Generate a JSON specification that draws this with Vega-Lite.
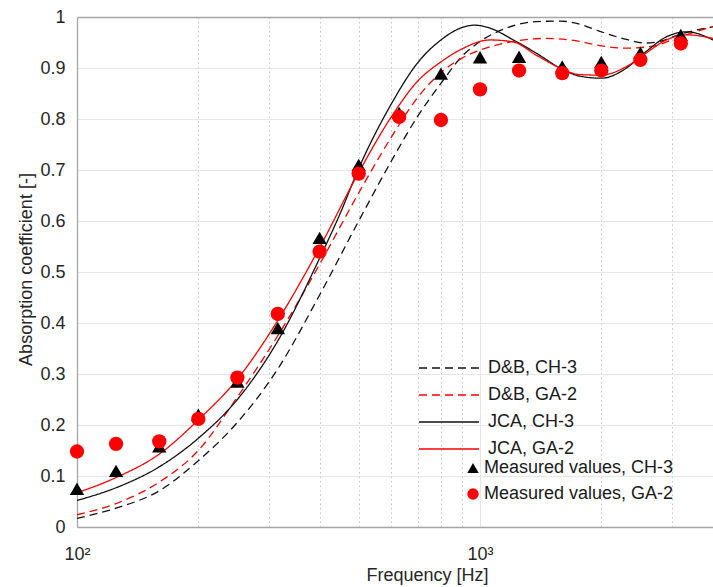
{
  "$schema": "https://vega.github.io/schema/vega-lite/v6.json",
  "width": 636,
  "height": 510,
  "autosize": {"type": "none"},
  "padding": {"left": 77, "top": 17, "right": 0, "bottom": 60},
  "background": "white",
  "config": {"view": {"stroke": null}, "font": "Liberation Sans"},
  "datasets": {
    "curves": [
      {"series": "D&B, CH-3", "f": 100, "a": 0.017},
      {"series": "D&B, CH-3", "f": 125, "a": 0.037},
      {"series": "D&B, CH-3", "f": 160, "a": 0.071},
      {"series": "D&B, CH-3", "f": 200, "a": 0.13},
      {"series": "D&B, CH-3", "f": 250, "a": 0.205},
      {"series": "D&B, CH-3", "f": 315, "a": 0.31},
      {"series": "D&B, CH-3", "f": 400, "a": 0.455},
      {"series": "D&B, CH-3", "f": 500, "a": 0.6},
      {"series": "D&B, CH-3", "f": 600, "a": 0.715},
      {"series": "D&B, CH-3", "f": 700, "a": 0.805},
      {"series": "D&B, CH-3", "f": 800, "a": 0.87},
      {"series": "D&B, CH-3", "f": 900, "a": 0.922},
      {"series": "D&B, CH-3", "f": 1000, "a": 0.952},
      {"series": "D&B, CH-3", "f": 1160, "a": 0.978},
      {"series": "D&B, CH-3", "f": 1380, "a": 0.991},
      {"series": "D&B, CH-3", "f": 1580, "a": 0.992},
      {"series": "D&B, CH-3", "f": 1770, "a": 0.986},
      {"series": "D&B, CH-3", "f": 1950, "a": 0.974},
      {"series": "D&B, CH-3", "f": 2310, "a": 0.956},
      {"series": "D&B, CH-3", "f": 2580, "a": 0.949},
      {"series": "D&B, CH-3", "f": 2790, "a": 0.952},
      {"series": "D&B, CH-3", "f": 3130, "a": 0.966},
      {"series": "D&B, CH-3", "f": 3786, "a": 0.981},

      {"series": "D&B, GA-2", "f": 100, "a": 0.024},
      {"series": "D&B, GA-2", "f": 125, "a": 0.046},
      {"series": "D&B, GA-2", "f": 160, "a": 0.088},
      {"series": "D&B, GA-2", "f": 200, "a": 0.15},
      {"series": "D&B, GA-2", "f": 250, "a": 0.255},
      {"series": "D&B, GA-2", "f": 315, "a": 0.375},
      {"series": "D&B, GA-2", "f": 400, "a": 0.515},
      {"series": "D&B, GA-2", "f": 500, "a": 0.655},
      {"series": "D&B, GA-2", "f": 600, "a": 0.762},
      {"series": "D&B, GA-2", "f": 700, "a": 0.842},
      {"series": "D&B, GA-2", "f": 800, "a": 0.891},
      {"series": "D&B, GA-2", "f": 900, "a": 0.919},
      {"series": "D&B, GA-2", "f": 1000, "a": 0.935},
      {"series": "D&B, GA-2", "f": 1210, "a": 0.952},
      {"series": "D&B, GA-2", "f": 1460, "a": 0.958},
      {"series": "D&B, GA-2", "f": 1770, "a": 0.952},
      {"series": "D&B, GA-2", "f": 1950, "a": 0.945},
      {"series": "D&B, GA-2", "f": 2310, "a": 0.939},
      {"series": "D&B, GA-2", "f": 2690, "a": 0.943},
      {"series": "D&B, GA-2", "f": 3130, "a": 0.961},
      {"series": "D&B, GA-2", "f": 3786, "a": 0.981},

      {"series": "JCA, CH-3", "f": 100, "a": 0.052},
      {"series": "JCA, CH-3", "f": 125, "a": 0.077},
      {"series": "JCA, CH-3", "f": 160, "a": 0.118},
      {"series": "JCA, CH-3", "f": 200, "a": 0.174},
      {"series": "JCA, CH-3", "f": 250, "a": 0.25},
      {"series": "JCA, CH-3", "f": 315, "a": 0.365},
      {"series": "JCA, CH-3", "f": 400, "a": 0.527},
      {"series": "JCA, CH-3", "f": 450, "a": 0.615},
      {"series": "JCA, CH-3", "f": 500, "a": 0.703},
      {"series": "JCA, CH-3", "f": 600, "a": 0.827},
      {"series": "JCA, CH-3", "f": 700, "a": 0.91},
      {"series": "JCA, CH-3", "f": 800, "a": 0.955},
      {"series": "JCA, CH-3", "f": 900, "a": 0.979},
      {"series": "JCA, CH-3", "f": 970, "a": 0.984},
      {"series": "JCA, CH-3", "f": 1060, "a": 0.978},
      {"series": "JCA, CH-3", "f": 1210, "a": 0.955},
      {"series": "JCA, CH-3", "f": 1380, "a": 0.929},
      {"series": "JCA, CH-3", "f": 1580, "a": 0.9},
      {"series": "JCA, CH-3", "f": 1770, "a": 0.884},
      {"series": "JCA, CH-3", "f": 2000, "a": 0.88},
      {"series": "JCA, CH-3", "f": 2310, "a": 0.9},
      {"series": "JCA, CH-3", "f": 2580, "a": 0.932},
      {"series": "JCA, CH-3", "f": 2900, "a": 0.961},
      {"series": "JCA, CH-3", "f": 3260, "a": 0.971},
      {"series": "JCA, CH-3", "f": 3786, "a": 0.955},

      {"series": "JCA, GA-2", "f": 100, "a": 0.067},
      {"series": "JCA, GA-2", "f": 125, "a": 0.097},
      {"series": "JCA, GA-2", "f": 160, "a": 0.143},
      {"series": "JCA, GA-2", "f": 200, "a": 0.21},
      {"series": "JCA, GA-2", "f": 250, "a": 0.29},
      {"series": "JCA, GA-2", "f": 315, "a": 0.405},
      {"series": "JCA, GA-2", "f": 400, "a": 0.548},
      {"series": "JCA, GA-2", "f": 500, "a": 0.695},
      {"series": "JCA, GA-2", "f": 600, "a": 0.802},
      {"series": "JCA, GA-2", "f": 700, "a": 0.874},
      {"series": "JCA, GA-2", "f": 800, "a": 0.912},
      {"series": "JCA, GA-2", "f": 900, "a": 0.937},
      {"series": "JCA, GA-2", "f": 1060, "a": 0.955},
      {"series": "JCA, GA-2", "f": 1210, "a": 0.951},
      {"series": "JCA, GA-2", "f": 1380, "a": 0.925},
      {"series": "JCA, GA-2", "f": 1580, "a": 0.9},
      {"series": "JCA, GA-2", "f": 1770, "a": 0.887},
      {"series": "JCA, GA-2", "f": 2000, "a": 0.886},
      {"series": "JCA, GA-2", "f": 2310, "a": 0.903},
      {"series": "JCA, GA-2", "f": 2580, "a": 0.929},
      {"series": "JCA, GA-2", "f": 2900, "a": 0.955},
      {"series": "JCA, GA-2", "f": 3260, "a": 0.965},
      {"series": "JCA, GA-2", "f": 3786, "a": 0.958}
    ],
    "meas": [
      {"mseries": "Measured values, CH-3", "f": 100, "a": 0.075},
      {"mseries": "Measured values, CH-3", "f": 125, "a": 0.11},
      {"mseries": "Measured values, CH-3", "f": 160, "a": 0.158},
      {"mseries": "Measured values, CH-3", "f": 200, "a": 0.22},
      {"mseries": "Measured values, CH-3", "f": 250, "a": 0.285},
      {"mseries": "Measured values, CH-3", "f": 315, "a": 0.39},
      {"mseries": "Measured values, CH-3", "f": 400, "a": 0.567},
      {"mseries": "Measured values, CH-3", "f": 500, "a": 0.71},
      {"mseries": "Measured values, CH-3", "f": 630, "a": 0.812},
      {"mseries": "Measured values, CH-3", "f": 800, "a": 0.889},
      {"mseries": "Measured values, CH-3", "f": 1000, "a": 0.921},
      {"mseries": "Measured values, CH-3", "f": 1250, "a": 0.922},
      {"mseries": "Measured values, CH-3", "f": 1600, "a": 0.903},
      {"mseries": "Measured values, CH-3", "f": 2000, "a": 0.912},
      {"mseries": "Measured values, CH-3", "f": 2500, "a": 0.93},
      {"mseries": "Measured values, CH-3", "f": 3150, "a": 0.965},
      {"mseries": "Measured values, GA-2", "f": 100, "a": 0.148},
      {"mseries": "Measured values, GA-2", "f": 125, "a": 0.163},
      {"mseries": "Measured values, GA-2", "f": 160, "a": 0.168},
      {"mseries": "Measured values, GA-2", "f": 200, "a": 0.212},
      {"mseries": "Measured values, GA-2", "f": 250, "a": 0.293},
      {"mseries": "Measured values, GA-2", "f": 315, "a": 0.418},
      {"mseries": "Measured values, GA-2", "f": 400, "a": 0.54},
      {"mseries": "Measured values, GA-2", "f": 500, "a": 0.693},
      {"mseries": "Measured values, GA-2", "f": 630, "a": 0.804},
      {"mseries": "Measured values, GA-2", "f": 800, "a": 0.798},
      {"mseries": "Measured values, GA-2", "f": 1000, "a": 0.858},
      {"mseries": "Measured values, GA-2", "f": 1250, "a": 0.895},
      {"mseries": "Measured values, GA-2", "f": 1600, "a": 0.89},
      {"mseries": "Measured values, GA-2", "f": 2000, "a": 0.895},
      {"mseries": "Measured values, GA-2", "f": 2500, "a": 0.916},
      {"mseries": "Measured values, GA-2", "f": 3150, "a": 0.948}
    ]
  },
  "encoding": {
    "x": {
      "field": "f",
      "type": "quantitative",
      "title": "Frequency [Hz]",
      "scale": {"type": "log", "domain": [100, 3786]},
      "axis": {
        "values": [100, 200, 300, 400, 500, 600, 700, 800, 900, 1000, 2000, 3000],
        "labelExpr": "datum.value == 100 ? '10²' : (datum.value == 1000 ? '10³' : '')",
        "ticks": false,
        "labelOverlap": false,
        "labelFlush": false,
        "domainColor": "#a6a6a6",
        "domainWidth": 1.3,
        "gridColor": {"condition": {"test": "datum.value == 100 || datum.value == 1000", "value": "#e6e6e6"}, "value": "#c4c4c4"},
        "gridDash": {"condition": {"test": "datum.value == 100 || datum.value == 1000", "value": []}, "value": [1.5, 3]},
        "gridWidth": 1,
        "labelFontSize": 18,
        "labelColor": "#262626",
        "labelPadding": 18,
        "titleFontSize": 18,
        "titleFontWeight": "normal",
        "titleColor": "#262626",
        "titleX": 350,
        "titleY": 53,
        "titleBaseline": "alphabetic",
        "titleAlign": "center"
      }
    },
    "y": {
      "field": "a",
      "type": "quantitative",
      "title": "Absorption coefficient [-]",
      "scale": {"domain": [0, 1], "nice": false},
      "axis": {
        "values": [0, 0.1, 0.2, 0.3, 0.4, 0.5, 0.6, 0.7, 0.8, 0.9, 1],
        "format": ".1~f",
        "ticks": false,
        "domainColor": "#a6a6a6",
        "domainWidth": 1.3,
        "gridColor": {"condition": {"test": "datum.value == 1", "value": "#a6a6a6"}, "value": "#e6e6e6"},
        "gridWidth": {"condition": {"test": "datum.value == 1", "value": 1.3}, "value": 1},
        "labelFontSize": 18,
        "labelColor": "#262626",
        "labelPadding": 12,
        "titleFontSize": 18,
        "titleFontWeight": "normal",
        "titleColor": "#262626",
        "titleX": -46,
        "titleY": 252,
        "titleAngle": -90,
        "titleBaseline": "alphabetic",
        "titleAlign": "center"
      }
    }
  },
  "layer": [
    {
      "data": {"name": "curves"},
      "mark": {"type": "line", "strokeWidth": 1.3, "interpolate": "monotone", "clip": true},
      "encoding": {
        "stroke": {
          "field": "series",
          "type": "nominal",
          "scale": {"domain": ["D&B, CH-3", "D&B, GA-2", "JCA, CH-3", "JCA, GA-2"], "range": ["#111111", "#ff0000", "#111111", "#ff0000"]},
          "legend": {
            "title": null,
            "orient": "none",
            "legendX": 362,
            "legendY": 341,
            "symbolType": "M-3.333,0H3.333",
            "symbolSize": 324,
            "symbolStrokeWidth": 1.3,
            "labelFontSize": 18,
            "labelColor": "#1a1a1a",
            "labelOffset": 29,
            "labelLimit": 300,
            "rowPadding": 8,
            "padding": 0
          }
        },
        "strokeDash": {
          "field": "series",
          "type": "nominal",
          "scale": {"domain": ["D&B, CH-3", "D&B, GA-2", "JCA, CH-3", "JCA, GA-2"], "range": [[8, 5], [8, 5], [1, 0], [1, 0]]},
          "legend": {
            "title": null,
            "orient": "none",
            "legendX": 362,
            "legendY": 341,
            "symbolType": "M-3.333,0H3.333",
            "symbolSize": 324,
            "symbolStrokeWidth": 1.3,
            "labelFontSize": 18,
            "labelColor": "#1a1a1a",
            "labelOffset": 29,
            "labelLimit": 300,
            "rowPadding": 8,
            "padding": 0
          }
        }
      }
    },
    {
      "data": {"name": "meas"},
      "mark": {"type": "point", "filled": true, "opacity": 1, "strokeWidth": 0, "size": 205},
      "encoding": {
        "fill": {
          "field": "mseries",
          "type": "nominal",
          "scale": {"domain": ["Measured values, CH-3", "Measured values, GA-2"], "range": ["#000000", "#ff0000"]},
          "legend": {
            "title": null,
            "orient": "none",
            "legendX": 387,
            "legendY": 442,
            "symbolSize": 130,
            "labelFontSize": 18,
            "labelColor": "#1a1a1a",
            "labelOffset": 2,
            "labelLimit": 300,
            "rowPadding": 8,
            "padding": 0
          }
        },
        "shape": {
          "field": "mseries",
          "type": "nominal",
          "scale": {"domain": ["Measured values, CH-3", "Measured values, GA-2"], "range": ["triangle-up", "circle"]},
          "legend": {
            "title": null,
            "orient": "none",
            "legendX": 387,
            "legendY": 442,
            "symbolSize": 130,
            "labelFontSize": 18,
            "labelColor": "#1a1a1a",
            "labelOffset": 2,
            "labelLimit": 300,
            "rowPadding": 8,
            "padding": 0
          }
        }
      }
    }
  ]
}
